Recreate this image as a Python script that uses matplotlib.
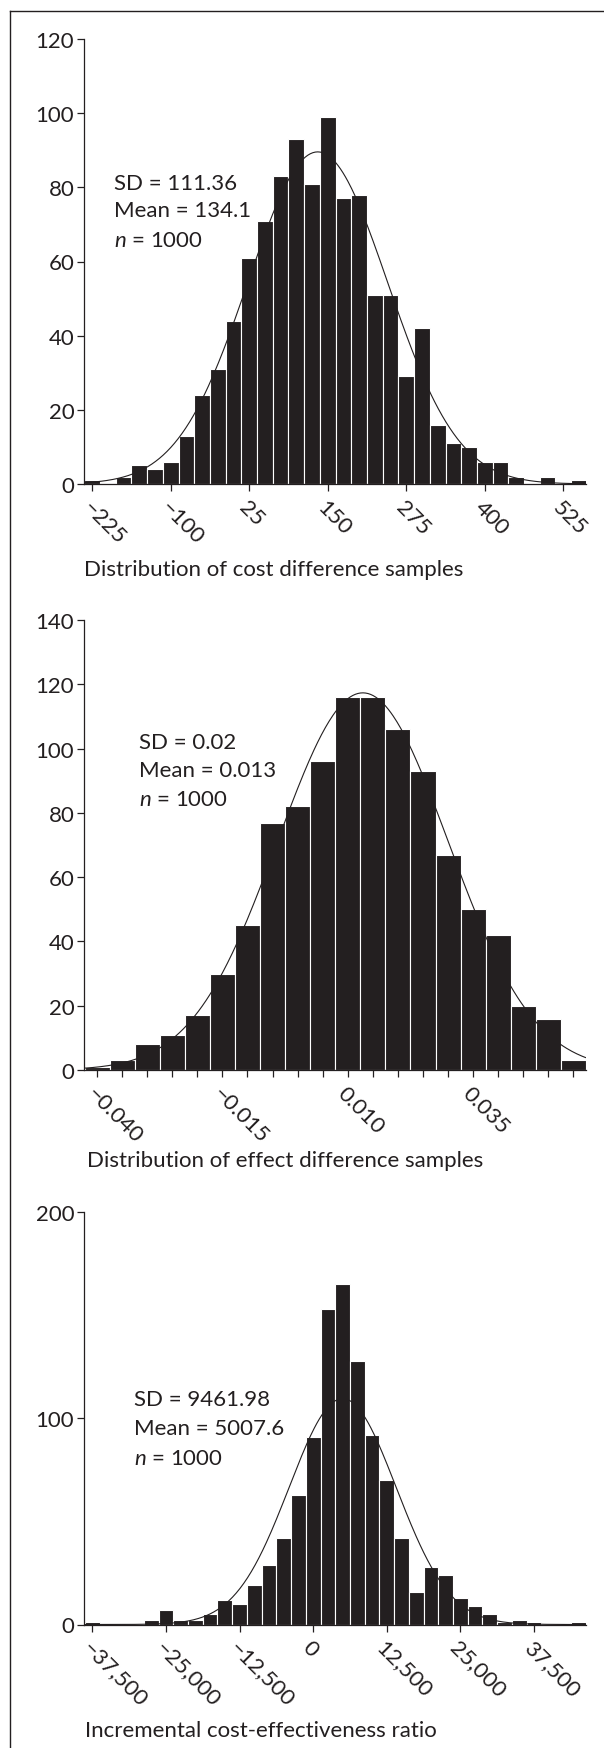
import matplotlib.pyplot as plt
import numpy as np
from matplotlib.lines import Line2D

plt.rcParams['font.family'] = ['Lato', 'DejaVu Sans']
plt.rcParams['mathtext.fontset'] = 'custom'
plt.rcParams['mathtext.rm'] = 'Lato'
plt.rcParams['mathtext.it'] = 'Lato:italic'

# panel 1 - cost difference (bins of 25, first centred at -225)
cost_counts = [1, 0, 2, 5, 4, 6, 13, 24, 31, 44, 61, 71, 83, 93, 81, 99,
               77, 78, 51, 51, 29, 42, 16, 11, 10, 6, 6, 2, 0, 2, 0, 1]
cost_start = -225
cost_bw = 25
cost_ticks = [-225, -100, 25, 150, 275, 400, 525]
cost_yticks = [0, 20, 40, 60, 80, 100, 120]
cost_text = ["SD = 111.36", "Mean = 134.1", "$n$ = 1000"]
cost_mean, cost_sd, cost_n = 134.1, 111.36, 1000

# panel 2 - effect difference (bins of 0.005, first centred at -0.040)
effect_counts = [1, 3, 8, 11, 17, 30, 45, 77, 82, 96, 116, 116, 106, 93,
                 67, 50, 42, 20, 16, 3]
effect_start = -0.040
effect_bw = 0.005
effect_ticks = [-0.040, -0.015, 0.010, 0.035]
effect_yticks = [0, 20, 40, 60, 80, 100, 120, 140]
effect_text = ["SD = 0.02", "Mean = 0.013", "$n$ = 1000"]
# sd of the drawn curve (read from its peak height)
effect_mean, effect_sd, effect_n = 0.013, 0.017, 1000

# panel 3 - ICER (bins of 2500, first centred at -37,500)
icer_counts = [1, 0, 0, 0, 2, 7, 2, 2, 5, 12, 10, 19, 29, 42, 63, 91, 153,
               165, 128, 92, 70, 42, 16, 28, 24, 13, 9, 5, 1, 2, 1, 0, 0, 1]
icer_start = -37500
icer_bw = 2500
icer_ticks = [-37500, -25000, -12500, 0, 12500, 25000, 37500]
icer_yticks = [0, 100, 200]
icer_text = ["SD = 9461.98", "Mean = 5007.6", "$n$ = 1000"]
icer_mean, icer_sd, icer_n = 5007.6, 9100, 1000

W, H = 604, 1749
fig = plt.figure(figsize=(W / 100, H / 100), dpi=100)
BAR = '#231f20'
FS = 16


def add_ax(left, top, right, bottom):
    return fig.add_axes([left / W, 1 - bottom / H, (right - left) / W, (bottom - top) / H])


def minus(s):
    return s.replace('-', '\u2212')


def panel(ax, counts, start, bw, mean, sd, n, xlim, ylim, yticks, ticks, labels, minor=False):
    centers = start + bw * np.arange(len(counts))
    ax.bar(centers, counts, width=bw, color=BAR, edgecolor='white', linewidth=0.8)
    xs = np.linspace(xlim[0], xlim[1], 400)
    ys = n * bw / (sd * np.sqrt(2 * np.pi)) * np.exp(-0.5 * ((xs - mean) / sd) ** 2)
    ax.plot(xs, ys, color='#231f20', lw=0.8)
    ax.set_xlim(xlim)
    ax.set_ylim(ylim)
    ax.spines['top'].set_visible(False)
    ax.spines['right'].set_visible(False)
    for s in ['left', 'bottom']:
        ax.spines[s].set_linewidth(0.9)
        ax.spines[s].set_color('#231f20')
    ax.set_yticks(yticks)
    ax.set_yticklabels([str(v) for v in yticks])
    if minor:
        lab = []
        for c in centers:
            hit = [l for t, l in zip(ticks, labels) if abs(t - c) < bw / 10]
            lab.append(hit[0] if hit else '')
        ax.set_xticks(centers)
        ax.set_xticklabels(lab)
    else:
        ax.set_xticks(ticks)
        ax.set_xticklabels(labels)
    ax.tick_params(direction='out', length=5, width=0.9, color='#231f20',
                   labelsize=FS, labelcolor='#231f20', pad=2)
    ax.tick_params(axis='x', pad=4)
    for lbl in ax.get_xticklabels():
        lbl.set_rotation(-45)
        lbl.set_ha('left')
        lbl.set_va('top')
        lbl.set_rotation_mode('anchor')


ax1 = add_ax(84, 40, 585.5, 485)
panel(ax1, cost_counts, cost_start, cost_bw, cost_mean, cost_sd, cost_n,
      (-238, 560.3), (0, 120), cost_yticks, cost_ticks,
      [minus(str(v)) for v in cost_ticks])

ax2 = add_ax(84, 621, 585.5, 1071)
panel(ax2, effect_counts, effect_start, effect_bw, effect_mean, effect_sd, effect_n,
      (-0.0426, 0.0574), (0, 140), effect_yticks, effect_ticks,
      [minus(f"{v:.3f}") for v in effect_ticks], minor=True)

ax3 = add_ax(84, 1213.3, 586, 1625.5)
panel(ax3, icer_counts, icer_start, icer_bw, icer_mean, icer_sd, icer_n,
      (-38910, 46330), (0, 200), icer_yticks, icer_ticks,
      [minus(f"{v:,}") for v in icer_ticks])


def fig_text(x, y, s, **kw):
    fig.text(x / W, 1 - y / H, s, fontsize=FS, color='#231f20', va='baseline', **kw)


for i, s in enumerate(cost_text):
    fig_text(113.6, [190, 217.3, 246.7][i], s)
for i, s in enumerate(effect_text):
    fig_text(138.7, [749, 777.3, 806][i], s)
for i, s in enumerate(icer_text):
    fig_text(134, [1405.7, 1435, 1465][i], s)

fig_text(84, 576, "Distribution of cost difference samples")
fig_text(86.7, 1166.7, "Distribution of effect difference samples")
fig_text(84.7, 1736.7, "Incremental cost-effectiveness ratio")

# frame lines (top and left only)
fig.add_artist(Line2D([9.6 / W, 1], [1 - 12.3 / H, 1 - 12.3 / H], color='#231f20', lw=1.0))
fig.add_artist(Line2D([9.6 / W, 9.6 / W], [0, 1 - 12.3 / H], color='#231f20', lw=1.0))

fig.savefig('out.png', dpi=100)
